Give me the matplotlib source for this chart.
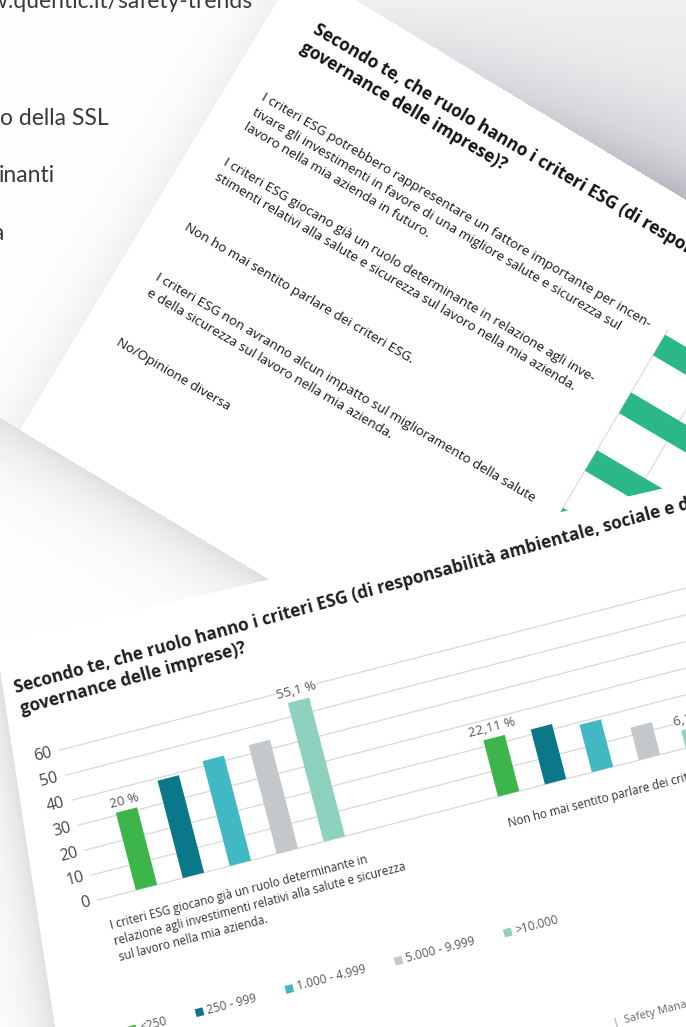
import numpy as np
import matplotlib
matplotlib.use("Agg")
import matplotlib.pyplot as plt
from matplotlib.transforms import Affine2D
from matplotlib.patches import Polygon, Rectangle

plt.rcParams['font.family'] = ['Open Sans', 'DejaVu Sans']

W, H, DPI = 686, 1027, 100

# ---------------- data ----------------
size_classes = ['<250', '250 - 999', '1.000 - 4.999', '5.000 - 9.999', '>10.000']
class_colors = ['#3cb54b', '#0a7889', '#41b8c3', '#c4c8cc', '#8ed1be']

lower_groups = ['I criteri ESG giocano già un ruolo determinante in\n'
                'relazione agli investimenti relativi alla salute e sicurezza\n'
                'sul lavoro nella mia azienda.',
                'Non ho mai sentito parlare dei criteri ESG.']
vals_determinante = [31, 39, 42, 43.5, 55.5]
vals_mai_sentito = [22.5, 22, 19, 13, 7]
labels_determinante = ['20 %', '', '', '', '55,1 %']
labels_mai_sentito = ['22,11 %', '', '', '', '6,1 %']
lower_yticks = [0, 10, 20, 30, 40, 50, 60]

upper_rows = ['I criteri ESG potrebbero rappresentare un fattore importante per incen-\n'
              'tivare gli investimenti in favore di una migliore salute e sicurezza sul\n'
              'lavoro nella mia azienda in futuro.',
              'I criteri ESG giocano già un ruolo determinante in relazione agli inve-\n'
              'stimenti relativi alla salute e sicurezza sul lavoro nella mia azienda.',
              'Non ho mai sentito parlare dei criteri ESG.',
              'I criteri ESG non avranno alcun impatto sul miglioramento della salute\n'
              'e della sicurezza sul lavoro nella mia azienda.',
              'No/Opinione diversa']
upper_values = [46, 33, 23, 10, 4]
upper_grid = [0, 10, 20, 30, 40]

title_1 = 'Secondo te, che ruolo hanno i criteri ESG (di responsabilità ambientale, sociale e di'
title_2 = 'governance delle imprese)?'

page_url = 'www.quentic.it/safety-trends'
page_fragments = ['o della SSL', 'inanti', 'a']
footer_left = '|'
footer_right = 'Safety Management'

# ---------------- figure ----------------
fig = plt.figure(figsize=(W / DPI, H / DPI), dpi=DPI)
ax = fig.add_axes([0, 0, 1, 1])
ax.set_xlim(0, W)
ax.set_ylim(H, 0)
ax.axis('off')

# paper geometry (edges of the two sheets, in pixel coordinates)
T1 = ((400, 27), (686, 200))      # top edge of upper sheet
L1 = ((20, 430), (278, 0))        # left edge of upper sheet
B1 = ((20, 430), (686, 830))      # bottom edge of upper sheet
T2 = ((267, 580), (686, 483))     # top edge of lower sheet
L2 = ((-4, 643), (55, 1027))      # left edge of lower sheet

yy, xx = np.mgrid[0:H, 0:W].astype(float) + 0.5


def signed(edge, inside):
    (x1, y1), (x2, y2) = edge
    dx, dy = x2 - x1, y2 - y1
    n = np.hypot(dx, dy)
    s = ((xx - x1) * dy - (yy - y1) * dx) / n
    si = ((inside[0] - x1) * dy - (inside[1] - y1) * dx) / n
    return s if si > 0 else -s


in1 = (400, 200)
in2 = (300, 900)
sT1, sL1, sB1 = signed(T1, in1), signed(L1, in1), signed(B1, in1)
sT2, sL2 = signed(T2, in2), signed(L2, in2)
inside1 = (sT1 > 0) & (sL1 > 0) & (sB1 > 0)
inside2 = (sT2 > 0) & (sL2 > 0)

t = np.clip((xx - 330) / 356, 0, 1)
dark_T = np.where(sT1 < 0, (0.04 + 0.20 * t) * np.exp(sT1 / 55) + 0.05 * t, 0)
dark_L = np.where(sL1 < 0, 0.06 * np.exp(sL1 / 26), 0)
dark_B = np.where(sB1 < 0, 0.12 * np.exp(sB1 / 32), 0)
dark_L2 = np.where(sL2 < 0, 0.12 * np.exp(sL2 / 25), 0)
dark = np.maximum.reduce([dark_T, dark_L, dark_B, dark_L2])
dark[inside1] = 0
dark[inside2] = 0
img = np.dstack([1 - dark, 1 - dark, 1 - 0.88 * dark])
ax.imshow(img, extent=(0, W, H, 0), aspect='auto', interpolation='bilinear', zorder=0)

# ---------- background page text ----------
ax.text(253, 8, page_url, ha='right', va='baseline', fontsize=16.5,
        family=['Lato', 'DejaVu Sans'], color='#3a3a3a', zorder=1)
for frag, yb, xs in zip(page_fragments, [125, 182, 240], [0, -1, -8]):
    ax.text(xs, yb, frag, ha='left', va='baseline', fontsize=16.5,
            family=['Lato', 'DejaVu Sans'], color='#3a3a3a', zorder=1)

# ---------- upper sheet (horizontal bar chart) ----------
ANG_UP = 30.5
up_px = Affine2D().rotate_deg(ANG_UP).translate(659, 345) + ax.transData
UP_SCALE = 5.6
up_val = Affine2D().scale(UP_SCALE, 1) + up_px
ROW_STEP = 67
row_y = np.arange(len(upper_rows)) * ROW_STEP

ax.vlines(upper_grid, -18, row_y[-1] + 30, colors='#e4d8db', lw=0.9,
          transform=up_val, zorder=1.9)
ax.barh(row_y, upper_values, height=24, left=0, color='#2cb78a',
        transform=up_val, zorder=2)
for yv, txt in zip(row_y, upper_rows):
    ax.text(-468, yv + 4, txt, transform=up_px, rotation=-ANG_UP,
            rotation_mode='anchor', ha='left', va='center', fontsize=9.7,
            linespacing=1.42, color='#161616', zorder=2)
ax.text(-458, -93, title_1, transform=up_px, rotation=-ANG_UP, rotation_mode='anchor',
        ha='left', va='baseline', fontsize=12.5, fontweight='bold', color='#121212', zorder=2)
ax.text(-460, -71, title_2, transform=up_px, rotation=-ANG_UP, rotation_mode='anchor',
        ha='left', va='baseline', fontsize=12.5, fontweight='bold', color='#121212', zorder=2)

# ---------- lower sheet paper (covers the upper sheet) ----------
def along(edge, x=None, y=None):
    (x1, y1), (x2, y2) = edge
    if x is not None:
        return (x, y1 + (y2 - y1) * (x - x1) / (x2 - x1))
    return (x1 + (x2 - x1) * (y - y1) / (y2 - y1), y)

tl = L2[0]
tr = along(T2, x=900)
bl = along(L2, y=1100)
ax.add_patch(Polygon([tl, tr, (900, 1100), bl], closed=True, fc='white', ec='none', zorder=3))

# ---------- lower sheet (column chart) ----------
ANG_LO = 14.5
lo_px = Affine2D().rotate_deg(-ANG_LO).translate(146.5, 887.5) + ax.transData
LO_SCALE = 2.58
lo_val = Affine2D().scale(1, -LO_SCALE) + lo_px
BAR_PITCH, GROUP_STEP, BAR_W = 48.5, 374, 22

ax.hlines(lower_yticks, -51, 1000, colors='#d8d8d8', lw=0.9, transform=lo_val, zorder=4)
for tv in lower_yticks:
    ax.text(-58, tv, str(tv), transform=lo_val, rotation=ANG_LO, rotation_mode='anchor',
            ha='right', va='center', fontsize=11.5, color='#444444', zorder=5)

for g, (vals, labs, cat) in enumerate(zip([vals_determinante, vals_mai_sentito],
                                          [labels_determinante, labels_mai_sentito],
                                          lower_groups)):
    x = g * GROUP_STEP + np.arange(len(vals)) * BAR_PITCH
    ax.bar(x, vals, width=BAR_W, color=class_colors, transform=lo_val, zorder=5)
    for xi, v, lab in zip(x, vals, labs):
        if lab:
            ax.text(xi, v + 1.3, lab, transform=lo_val, rotation=ANG_LO, rotation_mode='anchor',
                    ha='center', va='bottom', fontsize=9.5, color='#555555', zorder=6,
                    bbox=dict(fc='white', ec='none', pad=1.2))
    ax.text(g * GROUP_STEP + 2 * BAR_PITCH + 9, 22, cat, transform=lo_px, rotation=ANG_LO,
            rotation_mode='anchor', ha='center', va='top', ma='left', fontsize=8.4,
            linespacing=1.3, color='#333333', zorder=6)

ax.text(-78, -221, title_1, transform=lo_px, rotation=ANG_LO + 0.8, rotation_mode='anchor',
        ha='left', va='baseline', fontsize=12.3, fontweight='bold', color='#1e1e1e', zorder=6)
ax.text(-77, -199, title_2, transform=lo_px, rotation=ANG_LO + 0.8, rotation_mode='anchor',
        ha='left', va='baseline', fontsize=12.3, fontweight='bold', color='#1e1e1e', zorder=6)

# legend (flow layout along the sheet)
renderer = fig.canvas.get_renderer()
lx = -53
for name, col in zip(size_classes, class_colors):
    ax.add_patch(Rectangle((lx, 130), 8, 8, fc=col, ec='none', transform=lo_px, zorder=6))
    ax.text(lx + 12, 134, name, transform=lo_px, rotation=ANG_LO, rotation_mode='anchor',
            ha='left', va='center', fontsize=8.6, color='#555555', zorder=6)
    tmp = ax.text(0, 0, name, fontsize=8.6)
    wpx = tmp.get_window_extent(renderer).width
    tmp.remove()
    lx += 12 + wpx + 30

ax.text(424, 251, footer_left, transform=lo_px, rotation=ANG_LO, rotation_mode='anchor',
        ha='right', va='baseline', fontsize=8, color='#777777', zorder=6)
ax.text(430, 251, footer_right, transform=lo_px, rotation=ANG_LO, rotation_mode='anchor',
        ha='left', va='baseline', fontsize=8, color='#666666', zorder=6)

ax.set_autoscale_on(False)
ax.set_xlim(0, W)
ax.set_ylim(H, 0)
fig.savefig('out.png', dpi=DPI)
